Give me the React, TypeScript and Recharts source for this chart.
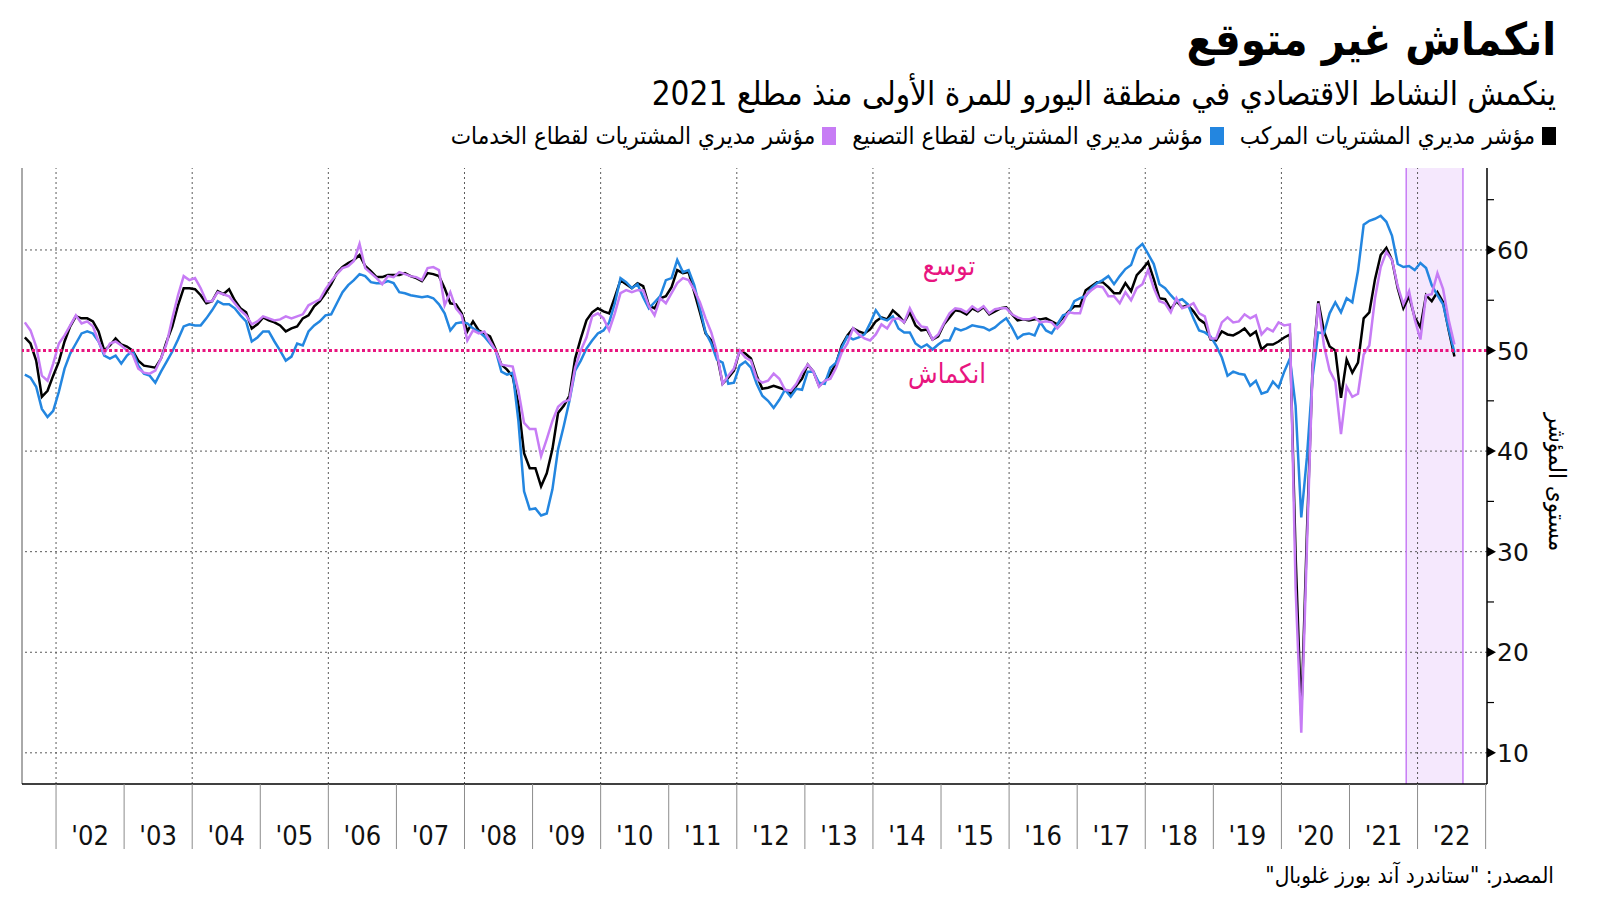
import React from "react";
import { LineChart, Line, XAxis, YAxis, ReferenceLine, ReferenceArea } from "recharts";

// monthly readings, July 2001 .. July 2022
const START_YEAR = 2001;
const START_MONTH = 7;

const compositePmi = [
  51.3, 50.7, 49.0, 45.4, 46.0, 47.5,
  48.9, 50.9, 52.4, 53.4, 53.2, 53.2, 52.9, 51.9, 50.0, 50.5, 51.2, 50.6,
  50.4, 50.0, 49.0, 48.5, 48.4, 48.3, 49.2, 50.9, 52.4, 54.5, 56.2, 56.2,
  56.1, 55.5, 54.7, 54.9, 55.9, 55.6, 56.1, 55.0, 54.2, 53.8, 52.2, 52.6,
  53.3, 53.0, 52.8, 52.5, 51.9, 52.2, 52.4, 53.2, 53.5, 54.4, 54.9, 55.7,
  56.6, 57.7, 58.3, 58.7, 59.0, 59.5, 58.4, 57.9, 57.3, 57.3, 57.5, 57.5,
  57.5, 57.7, 57.4, 57.2, 56.9, 57.7, 57.6, 57.4, 56.2, 54.7, 54.6, 53.7,
  51.9, 52.9, 52.0, 51.7, 51.4, 50.1, 48.6, 48.1, 47.4, 44.7, 39.8, 38.3,
  38.3, 36.5, 37.8, 40.2, 43.8, 44.5, 45.5, 49.2, 51.2, 53.0, 53.8, 54.2,
  53.9, 53.7, 55.3, 57.0, 56.6, 56.2, 56.7, 56.4, 54.5, 54.2, 55.2, 55.4,
  56.3, 58.0, 57.7, 57.8, 55.8, 53.8, 51.7, 51.0, 49.5, 46.7, 47.3, 48.0,
  50.0, 49.7, 49.2, 47.5, 46.2, 46.3, 46.5, 46.3, 46.1, 45.7, 46.5, 47.2,
  48.6, 47.9, 46.5, 46.9, 47.7, 48.7, 50.5, 51.5, 52.2, 51.9, 51.7, 52.1,
  52.9, 53.3, 53.1, 54.0, 53.5, 52.8, 53.8, 52.5, 52.0, 52.1, 51.1, 51.4,
  52.6, 53.3, 54.0, 53.9, 53.6, 54.2, 53.9, 54.3, 53.6, 53.9, 54.2, 54.3,
  53.6, 53.0, 53.1, 53.0, 53.1, 53.1, 53.2, 52.9, 52.6, 53.3, 53.9, 54.4,
  54.4, 56.0, 56.4, 56.8, 56.8, 56.3, 55.7, 55.7, 56.7, 55.9, 57.5, 58.1,
  58.8, 57.1, 55.2, 55.1, 54.1, 54.9, 54.3, 54.5, 53.9, 53.1, 52.7, 51.1,
  51.0, 51.9, 51.6, 51.5, 51.8, 52.2, 51.5, 51.9, 50.1, 50.6, 50.6, 50.9,
  51.3, 51.6, 29.7, 13.6, 31.9, 48.5, 54.9, 51.9, 50.4, 50.0, 45.3, 49.1,
  47.8, 48.8, 53.2, 53.8, 57.1, 59.5, 60.2, 59.0, 56.2, 54.2, 55.4, 53.3,
  52.3, 55.5, 54.9, 55.8, 54.8, 52.0, 49.4,
];

const manufacturingPmi = [
  47.6, 47.3, 46.4, 44.2, 43.4, 44.0,
  45.9, 48.2, 49.7, 50.7, 51.7, 51.9, 51.7, 50.9, 49.5, 49.2, 49.5, 48.7,
  49.5, 50.0, 48.5, 47.7, 47.5, 46.8, 47.9, 48.9, 49.9, 51.1, 52.4, 52.6,
  52.5, 52.5, 53.2, 54.0, 54.9, 54.6, 54.6, 54.2, 53.5, 52.9, 50.9, 51.3,
  51.9, 51.9, 50.9, 50.0, 49.0, 49.4, 50.7, 50.5, 51.9, 52.5, 52.9, 53.5,
  53.6, 54.7, 55.8, 56.5, 57.0, 57.6, 57.4, 56.8, 56.7, 56.7, 56.9, 56.7,
  55.8, 55.7, 55.5, 55.4, 55.3, 55.4, 55.2, 54.6, 53.7, 52.0, 52.7, 52.8,
  52.7, 52.2, 51.9, 51.4, 50.7, 50.0, 47.9, 47.6, 47.8, 43.0, 36.0, 34.2,
  34.3, 33.6, 33.8, 36.2, 40.2, 42.5, 45.0, 48.0, 49.0, 50.2, 51.0, 51.7,
  52.0, 52.8, 54.7, 57.2, 56.8, 56.2, 56.6, 55.3, 54.2, 54.8, 55.4, 57.0,
  57.2, 59.0, 57.8, 58.0, 56.5, 54.2, 51.8, 50.7, 49.1, 48.8, 46.7, 46.8,
  48.5, 48.9, 48.3, 46.7, 45.5, 45.0, 44.3, 45.1, 46.1, 45.4, 46.2, 46.1,
  47.9, 47.9, 46.8, 46.7, 48.3, 48.8, 50.3, 51.4, 51.1, 51.3, 51.6, 52.7,
  54.0, 53.2, 53.0, 53.4, 52.2, 51.8, 51.8, 50.7, 50.3, 50.6, 50.1, 50.6,
  51.0, 51.0, 52.2, 52.0, 52.2, 52.5, 52.4, 52.3, 52.0, 52.3, 52.8, 53.2,
  52.3, 51.2, 51.6, 51.7, 51.5, 52.8, 52.0, 51.7, 52.6, 53.5, 53.7, 54.9,
  55.2, 55.4, 56.2, 56.7, 57.0, 57.4, 56.6, 57.4, 58.1, 58.5, 60.1, 60.6,
  59.6, 58.6, 56.6, 56.2, 55.5, 54.9, 55.1, 54.6, 53.2, 52.0, 51.8, 51.4,
  50.5, 49.3, 47.5, 47.9, 47.7, 47.6, 46.5, 47.0, 45.7, 45.9, 46.9, 46.3,
  47.9, 49.2, 44.5, 33.4, 39.4, 47.4, 51.8, 51.7, 53.7, 54.8, 53.8, 55.2,
  54.8, 57.9, 62.5, 62.9, 63.1, 63.4, 62.8, 61.4, 58.6, 58.3, 58.4, 58.0,
  58.7, 58.2, 56.5, 55.5, 54.6, 52.1, 49.8,
];

const servicesPmi = [
  52.8, 52.0, 50.4, 47.5, 47.0, 48.7,
  50.7, 51.5, 52.5, 53.5, 52.7, 52.9, 52.4, 50.9, 49.7, 50.7, 50.9, 50.5,
  50.0, 49.6, 48.2, 47.8, 47.7, 48.0, 49.2, 50.7, 53.2, 55.5, 57.4, 57.0,
  57.2, 56.2, 54.9, 54.9, 55.8, 55.6, 55.4, 54.7, 54.0, 53.5, 52.6, 52.9,
  53.4, 53.2, 53.0, 53.1, 53.4, 53.2, 53.4, 53.6, 54.5, 54.8, 55.1, 56.1,
  56.9, 57.6, 58.2, 58.4, 58.9, 60.6, 58.2, 57.7, 57.2, 56.6, 57.4, 57.3,
  57.8, 57.6, 57.4, 57.3, 57.0, 58.2, 58.3, 58.0, 54.5, 55.8, 54.2, 53.5,
  51.0, 52.0, 51.7, 51.9, 50.9, 50.0, 48.6, 48.5, 48.4, 46.0, 42.8, 42.2,
  42.2, 39.5, 41.2, 43.0, 44.4, 44.9, 45.1, 48.3, 50.0, 51.3, 53.4, 53.7,
  53.2, 52.0, 53.7, 55.7, 56.0, 55.8, 56.0, 56.0, 54.4, 53.5, 55.2, 54.7,
  55.7, 56.7, 57.2, 57.0, 56.0, 54.8, 53.2, 51.8, 49.8, 46.7, 47.5, 48.2,
  50.0, 49.3, 49.0, 47.2, 46.8, 47.0, 47.7, 47.2, 46.1, 46.0, 46.7, 47.8,
  48.6, 47.9, 46.4, 47.0, 47.2, 48.3, 49.8, 50.7, 52.2, 51.6, 51.2, 51.0,
  51.6, 52.6, 52.2, 53.1, 53.2, 52.8, 54.2, 53.1, 52.4, 52.3, 51.1, 51.6,
  52.7, 53.7, 54.2, 54.1, 53.8, 54.4, 54.0, 54.4, 53.7, 54.1, 54.2, 54.2,
  53.6, 53.3, 53.1, 53.1, 53.3, 52.8, 52.9, 52.8, 52.2, 52.8, 53.8, 53.7,
  53.7, 55.5, 56.0, 56.4, 56.3, 55.4, 55.4, 54.7, 55.8, 55.0, 56.2, 56.6,
  58.0, 56.2, 54.9, 54.7, 53.8, 55.2, 54.2, 54.4, 54.7, 53.7, 53.4, 51.2,
  51.2, 52.8, 53.3, 52.8, 52.9, 53.6, 53.2, 53.5, 51.6, 52.2, 51.9, 52.8,
  52.5, 52.6, 26.4, 12.0, 30.5, 48.3, 54.7, 50.5, 48.0, 46.9, 41.7, 46.4,
  45.4, 45.7, 49.6, 50.5, 55.2, 58.3, 59.8, 59.0, 56.4, 54.6, 55.9, 53.1,
  51.1, 55.5, 55.6, 57.7, 56.1, 53.0, 50.6,
];

const yearTicks = [
  2002, 2003, 2004, 2005, 2006, 2007, 2008, 2009, 2010, 2011, 2012,
  2013, 2014, 2015, 2016, 2017, 2018, 2019, 2020, 2021, 2022, 2023,
];
const gridYears = [2002, 2004, 2006, 2008, 2010, 2012, 2014, 2016, 2018, 2020, 2022];
const valueTicks = [10, 15, 20, 25, 30, 35, 40, 45, 50, 55, 60, 65];
const gridValues = [10, 20, 30, 40, 60];
const threshold = 50;
const shadeStart = 2021 + 10 / 12;
const shadeEnd = 2022 + 8 / 12;

const legendItems = [
  { label: "مؤشر مديري المشتريات المركب", color: "#000000" },
  { label: "مؤشر مديري المشتريات لقطاع التصنيع", color: "#2386e0" },
  { label: "مؤشر مديري المشتريات لقطاع الخدمات", color: "#c77cf5" },
];

const rows = compositePmi.map((v, i) => ({
  t: START_YEAR + (START_MONTH - 1 + i + 0.5) / 12,
  composite: v,
  manufacturing: manufacturingPmi[i],
  services: servicesPmi[i],
}));

const W = 1600;
const H = 901;
const X_DOMAIN = [2001.5, 2023.02];
const Y_DOMAIN = [6.9, 68.15];
const PLOT_LEFT = 22;
const Y_AXIS_W = 113;
const X_AXIS_H = 117;
const PX_PER_YEAR = (W - PLOT_LEFT - Y_AXIS_W) / (X_DOMAIN[1] - X_DOMAIN[0]);

const arabic = '"DejaVu Sans Condensed", "DejaVu Sans", sans-serif';
const pink = "#e8157f";

const YearTick = (props: any) => {
  const { x, y, payload } = props;
  const year = payload.value;
  return (
    <g>
      <line x1={x} y1={y} x2={x} y2={y + 65} stroke="#8c8c8c" strokeWidth={1} />
      {year < 2023 && (
        <text
          x={x + PX_PER_YEAR / 2}
          y={y + 61}
          textAnchor="middle"
          fontSize={27}
          fontFamily='"DejaVu Sans Condensed", sans-serif'
          fill="#111"
        >
          {"'" + String(year).slice(2)}
        </text>
      )}
    </g>
  );
};

const ValueTick = (props: any) => {
  const { x, y, payload } = props;
  const v = payload.value;
  if (v % 10 !== 0) {
    return <line x1={x} y1={y} x2={x + 7} y2={y} stroke="#000" strokeWidth={1.2} />;
  }
  return (
    <g>
      <path d={`M${x},${y - 5} L${x + 9},${y} L${x},${y + 5} Z`} fill="#000" />
      <text x={x + 10} y={y + 9} fontSize={25} fontFamily='"DejaVu Sans", sans-serif' fill="#111">
        {v}
      </text>
    </g>
  );
};

export default function App() {
  return (
    <div style={{ position: "relative", width: W, height: H, background: "#fff", overflow: "hidden" }}>
      <style>{"body{margin:0;}"}</style>

      <div
        style={{
          position: "absolute", right: 44, top: 14, direction: "rtl",
          fontFamily: arabic, fontWeight: 700, fontSize: 45, lineHeight: "52px", color: "#000",
        }}
      >
        انكماش غير متوقع
      </div>
      <div
        style={{
          position: "absolute", right: 44, top: 74, direction: "rtl",
          fontFamily: arabic, fontSize: 33, lineHeight: "40px", color: "#000",
        }}
      >
        ينكمش  النشاط الاقتصادي في منطقة اليورو للمرة الأولى منذ مطلع 2021
      </div>
      <div
        style={{
          position: "absolute", right: 44, top: 121, direction: "rtl", display: "flex", gap: 16,
          fontFamily: arabic, fontSize: 24, lineHeight: "30px", color: "#000",
        }}
      >
        {legendItems.map((it) => (
          <div key={it.label} style={{ display: "flex", alignItems: "center", gap: 7 }}>
            <span style={{ width: 14, height: 18, background: it.color, display: "inline-block" }} />
            <span>{it.label}</span>
          </div>
        ))}
      </div>

      <div style={{ position: "absolute", left: 0, top: 0 }}>
        <LineChart
          width={W}
          height={H}
          data={rows}
          margin={{ top: 168, right: 0, bottom: 0, left: PLOT_LEFT }}
        >
          <XAxis
            dataKey="t"
            type="number"
            domain={X_DOMAIN}
            ticks={yearTicks}
            interval={0}
            tick={<YearTick />}
            tickLine={false}
            tickSize={0}
            tickMargin={0}
            height={X_AXIS_H}
            axisLine={{ stroke: "#000", strokeWidth: 1.5 }}
            allowDataOverflow
          />
          <YAxis
            orientation="right"
            type="number"
            domain={Y_DOMAIN}
            ticks={valueTicks}
            interval={0}
            tick={<ValueTick />}
            tickLine={false}
            tickSize={0}
            tickMargin={0}
            width={Y_AXIS_W}
            axisLine={{ stroke: "#000", strokeWidth: 1.5 }}
            allowDataOverflow
          />
          <ReferenceArea x1={shadeStart} x2={shadeEnd} fill="#f5e8fd" fillOpacity={1} stroke="none" />
          {gridValues.map((v) => (
            <ReferenceLine key={"gy" + v} y={v} stroke="#5a5a5a" strokeWidth={1} strokeDasharray="2 3" />
          ))}
          {gridYears.map((yr) => (
            <ReferenceLine key={"gx" + yr} x={yr} stroke="#5a5a5a" strokeWidth={1} strokeDasharray="2 3" />
          ))}
          <ReferenceLine x={X_DOMAIN[0]} stroke="#555" strokeWidth={1} />
          <ReferenceLine x={shadeStart} stroke="#c77cf5" strokeWidth={1.5} />
          <ReferenceLine x={shadeEnd} stroke="#c77cf5" strokeWidth={1.5} />
          <Line dataKey="composite" stroke="#000000" strokeWidth={2.5} dot={false} isAnimationActive={false} />
          <Line dataKey="manufacturing" stroke="#2386e0" strokeWidth={2.5} dot={false} isAnimationActive={false} />
          <Line dataKey="services" stroke="#c77cf5" strokeWidth={2.5} dot={false} isAnimationActive={false} />
          <ReferenceLine y={threshold} stroke={pink} strokeWidth={3} strokeDasharray="3 2.5" />
        </LineChart>
      </div>

      <div
        style={{
          position: "absolute", left: 949, top: 265, transform: "translate(-50%, -50%)", direction: "rtl",
          fontFamily: arabic, fontSize: 27, color: pink, whiteSpace: "nowrap",
        }}
      >
        توسع
      </div>
      <div
        style={{
          position: "absolute", left: 947, top: 373, transform: "translate(-50%, -50%)", direction: "rtl",
          fontFamily: arabic, fontSize: 27, color: pink, whiteSpace: "nowrap",
        }}
      >
        انكماش
      </div>
      <div
        style={{
          position: "absolute", left: 1557, top: 482, transform: "translate(-50%, -50%) rotate(90deg)",
          direction: "rtl", whiteSpace: "nowrap", fontFamily: arabic, fontSize: 24, color: "#000",
        }}
      >
        مستوى المؤشر
      </div>
      <div
        style={{
          position: "absolute", right: 46, top: 861, direction: "rtl",
          fontFamily: arabic, fontSize: 22.5, lineHeight: "28px", color: "#000",
        }}
      >
        المصدر: "ستاندرد آند بورز غلوبال"
      </div>
    </div>
  );
}
